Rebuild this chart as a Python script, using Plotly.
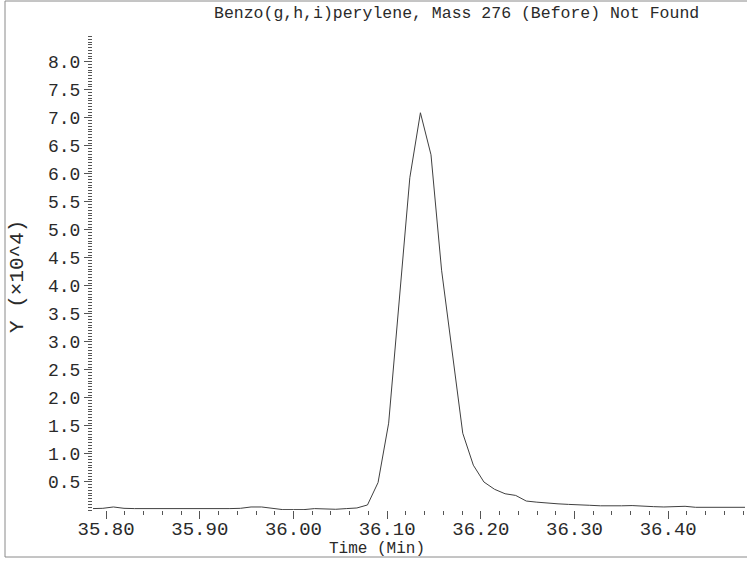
import plotly.graph_objects as go

# Retention time (min) of each sample
time_min = [35.7852, 35.7965, 35.8078, 35.8191, 35.8304, 35.8417, 35.8530, 35.8643,
            35.8756, 35.8869, 35.8982, 35.9095, 35.9208, 35.9321, 35.9434, 35.9547,
            35.9660, 35.9773, 35.9886, 35.9999, 36.0112, 36.0225, 36.0338, 36.0451,
            36.0564, 36.0677, 36.0790, 36.0903, 36.1016, 36.1129, 36.1242, 36.1355,
            36.1468, 36.1581, 36.1694, 36.1807, 36.1920, 36.2033, 36.2146, 36.2259,
            36.2372, 36.2485, 36.2598, 36.2711, 36.2824, 36.2937, 36.3050, 36.3163,
            36.3276, 36.3389, 36.3502, 36.3615, 36.3728, 36.3841, 36.3954, 36.4067,
            36.4180, 36.4293, 36.4406, 36.4519, 36.4632, 36.4745, 36.4858]

# Abundance (x10^4)
abundance = [0.025, 0.030, 0.054, 0.030, 0.025, 0.025, 0.025, 0.025,
             0.025, 0.025, 0.013, 0.025, 0.025, 0.025, 0.030, 0.054,
             0.054, 0.030, 0.007, 0.007, 0.007, 0.025, 0.013, 0.013,
             0.025, 0.036, 0.090, 0.49, 1.55, 3.75, 5.93, 7.09,
             6.34, 4.28, 2.82, 1.37, 0.80, 0.50, 0.37, 0.29,
             0.26, 0.16, 0.14, 0.12, 0.11, 0.10, 0.098, 0.084,
             0.075, 0.071, 0.075, 0.079, 0.066, 0.060, 0.054, 0.057,
             0.066, 0.048, 0.048, 0.048, 0.048, 0.048, 0.048]

x_tick_vals = [35.80, 35.90, 36.00, 36.10, 36.20, 36.30, 36.40]
x_tick_text = ["35.80", "35.90", "36.00", "36.10", "36.20", "36.30", "36.40"]
y_tick_vals = [0.5, 1.0, 1.5, 2.0, 2.5, 3.0, 3.5, 4.0, 4.5, 5.0, 5.5, 6.0, 6.5, 7.0, 7.5, 8.0]
y_tick_text = ["0.5", "1.0", "1.5", "2.0", "2.5", "3.0", "3.5", "4.0",
               "4.5", "5.0", "5.5", "6.0", "6.5", "7.0", "7.5", "8.0"]

title_text = "Benzo(g,h,i)perylene, Mass 276 (Before) Not Found"
x_title = "Time (Min)"
y_title = "Y (×10^4)"

FONT = "Liberation Mono"
TXT = "#2a2a2a"

W, H = 747, 561
L, R, T, B = 93, 2, 36, 51
PW, PH = W - L - R, H - T - B


def px(x):
    return (x - L) / PW


def py(y):
    return (H - B - y) / PH


fig = go.Figure()
fig.add_trace(go.Scatter(x=time_min, y=abundance, mode="lines",
                         line=dict(color="#404040", width=1), hoverinfo="skip",
                         showlegend=False))

fig.update_layout(
    width=W, height=H,
    margin=dict(l=L, r=R, t=T, b=B, autoexpand=False),
    paper_bgcolor="white", plot_bgcolor="white",
    font=dict(family=FONT, color=TXT),
    xaxis=dict(range=[35.786, 36.482], showgrid=False, zeroline=False, showline=False,
               automargin=False,
               tickmode="array", tickvals=x_tick_vals, ticktext=x_tick_text,
               ticks="outside", ticklen=8, tickcolor="#555555", tickwidth=1,
               ticklabelstandoff=-7,
               tickfont=dict(family=FONT, size=19, color=TXT),
               minor=dict(dtick=0.02, tick0=35.80, ticks="outside", ticklen=4,
                          tickcolor="#555555", tickwidth=1, showgrid=False)),
    yaxis=dict(range=[0, 8.46], showgrid=False, zeroline=False, showline=False,
               automargin=False,
               tickmode="array", tickvals=y_tick_vals, ticktext=y_tick_text,
               ticks="outside", ticklen=8, tickcolor="#555555", tickwidth=1,
               tickfont=dict(family=FONT, size=18, color=TXT),
               minor=dict(dtick=0.05, tick0=0, ticks="outside", ticklen=4,
                          tickcolor="#555555", tickwidth=1, showgrid=False)),
    shapes=[dict(type="rect", xref="paper", yref="paper",
                 x0=px(5), x1=px(752), y0=py(557), y1=py(1),
                 line=dict(color="#8a8a8a", width=1), fillcolor="rgba(0,0,0,0)",
                 layer="below")],
    annotations=[
        dict(text=title_text, xref="paper", yref="paper", x=px(456), y=py(14),
             xanchor="center", yanchor="middle", showarrow=False,
             font=dict(family=FONT, size=16.5, color=TXT)),
        dict(text=x_title, xref="paper", yref="paper", x=px(377), y=py(549),
             xanchor="center", yanchor="middle", showarrow=False,
             font=dict(family=FONT, size=16, color=TXT)),
        dict(text=y_title, xref="paper", yref="paper", x=px(17), y=py(277),
             xanchor="center", yanchor="middle", showarrow=False, textangle=-90,
             font=dict(family=FONT, size=21, color=TXT)),
    ],
)

fig.write_html("out.html", config={"displayModeBar": False},
               post_script="document.body.style.margin='0';document.body.style.overflow='hidden';")
